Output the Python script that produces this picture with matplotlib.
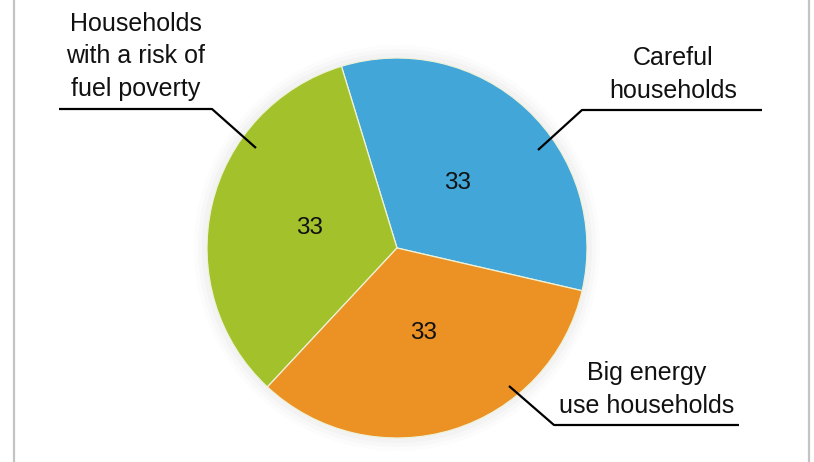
import matplotlib
matplotlib.use("Agg")
import matplotlib.pyplot as plt
from matplotlib.patches import Circle

# Household segments (percent share)
segments = ["Careful households", "Households with a risk of fuel poverty", "Big energy use households"]
shares = [33, 33, 33]
share_labels = ["33", "33", "33"]
colors = ["#42a6d8", "#a3c12b", "#ec9123"]

W, H = 814, 462
fig = plt.figure(figsize=(W / 100, H / 100), dpi=100)
ax = fig.add_axes([0, 0, 1, 1])
ax.set_xlim(0, W)
ax.set_ylim(0, H)
ax.set_aspect("equal")
ax.axis("off")

plt.rcParams["font.family"] = ["Liberation Sans", "DejaVu Sans"]

cx, cy, r = 397, H - 248, 190

# soft halo behind the pie
for k, a in [(13, 0.025), (9, 0.035), (5, 0.05)]:
    ax.add_patch(Circle((cx, cy), r + k, color="#9a9a9a", alpha=a, lw=0, zorder=0))

wedges, texts = ax.pie(
    shares, colors=colors, labels=share_labels, labeldistance=0.47,
    startangle=-13, counterclock=True, center=(cx, cy), radius=r,
    wedgeprops=dict(edgecolor="#eef2d8", linewidth=0.9),
    textprops=dict(fontsize=17.5, color="#111111"), frame=True,
)
for t in texts:
    t.set_ha("center")
    t.set_va("center")
ax.set_xlim(0, W)
ax.set_ylim(0, H)
ax.axis("off")

def y(p):
    return H - p

# callout labels
txt = dict(fontsize=18, color="#111111", ha="center", va="baseline", linespacing=1.45)
ax.text(136, y(96), "Households\nwith a risk of\nfuel poverty", **txt)
ax.text(673, y(98), "Careful\nhouseholds", **txt)
ax.text(647, y(413), "Big energy\nuse households", **txt)

line = dict(color="black", lw=1.6, solid_capstyle="butt", zorder=5)
ax.plot([59, 212, 256], [y(109), y(109), y(148)], **line)
ax.plot([538, 582, 762], [y(150), y(110), y(110)], **line)
ax.plot([509, 554, 739], [y(386), y(425), y(425)], **line)

# side frame lines
ax.plot([14, 14], [0, H], color="#c4c4c4", lw=1.6)
ax.plot([809, 809], [0, H], color="#c4c4c4", lw=1.6)

fig.savefig("out.png", dpi=100)
